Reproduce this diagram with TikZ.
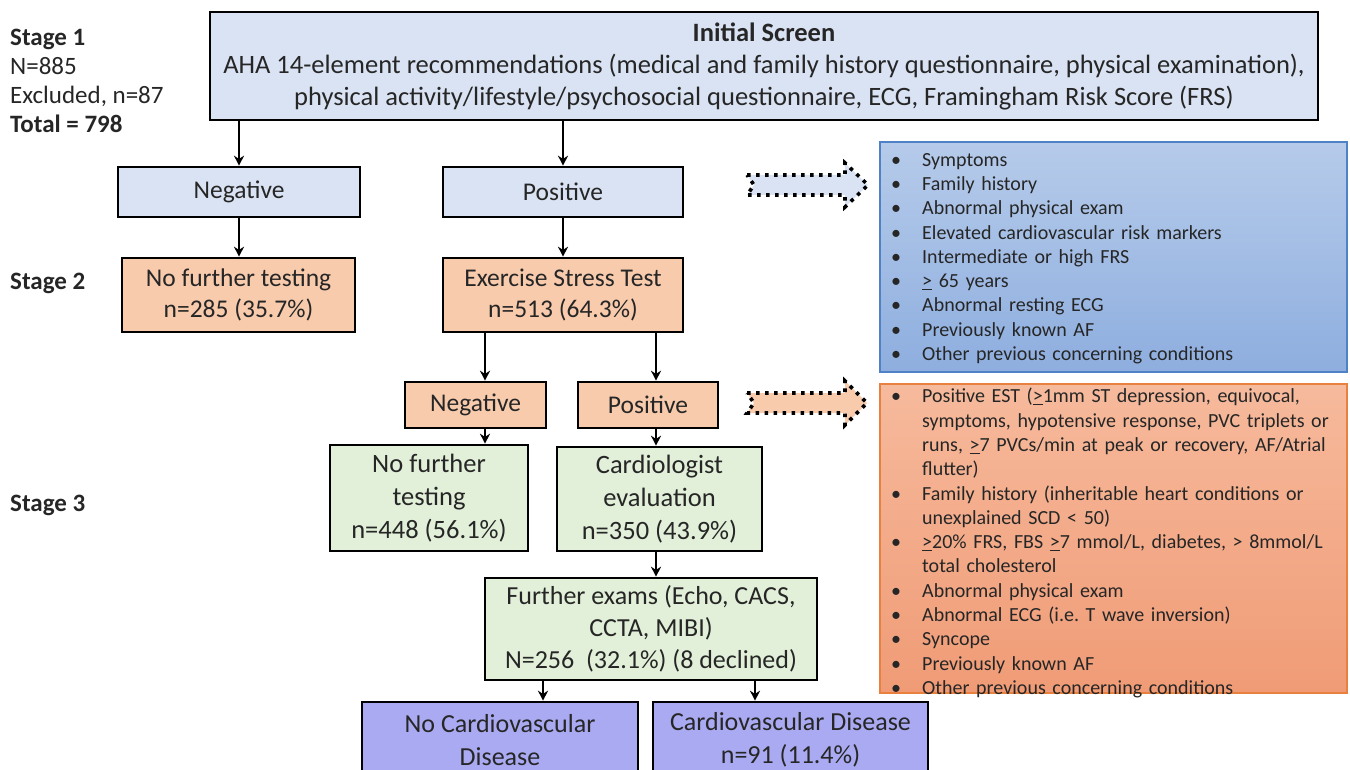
\documentclass[tikz,border=0pt]{standalone}
\usepackage{fontspec}
\setmainfont{Carlito}
\usetikzlibrary{calc,arrows.meta}
\definecolor{lblue}{HTML}{DAE3F3}
\definecolor{lorange}{HTML}{F8CBAD}
\definecolor{lgreen}{HTML}{E2F0D9}
\definecolor{lpurple}{HTML}{AAAAF2}
\definecolor{bluetop}{HTML}{B6CBEA}
\definecolor{bluebot}{HTML}{8EAEDF}
\definecolor{blueedge}{HTML}{4F81C6}
\definecolor{orgtop}{HTML}{F6BA9C}
\definecolor{orgbot}{HTML}{F09B76}
\definecolor{orgedge}{HTML}{E8813F}
\definecolor{txt}{HTML}{262626}
\newcommand\bitem[1]{\noindent\makebox[42pt][l]{\hspace{11pt}\textbullet}#1\par}
\newcommand\citem[1]{\noindent\hspace*{42pt}#1\par}
\begin{document}
\begin{tikzpicture}[x=1pt,y=-1pt,
  box/.style={draw=black, line width=2.6pt, inner sep=0pt, align=center, text=txt,
              font=\fontsize{25.5}{31}\selectfont},
  gbox/.style={box, fill=lgreen, font=\fontsize{26.5}{33}\selectfont},
  arr/.style={line width=1.8pt, -{Stealth[length=10pt,width=10pt]}},
  lbl/.style={inner sep=0pt, align=left, text=txt, font=\fontsize{25}{29}\selectfont},
  sidebox/.style={line width=1.4pt, inner sep=0pt, minimum width=467pt},
  sidetext/.style={inner sep=0pt, anchor=north west, text width=465pt, align=left, text=txt,
                   font=\fontsize{20}{24.3}\selectfont},
  dotarrow/.style={line width=3.6pt, dash pattern=on 3.6pt off 5.4pt}
]
\useasboundingbox (0,0) rectangle (1350,770);
\frenchspacing

% left labels
\node[lbl, anchor=north west] (s1) at (10,29) {\textbf{Stage 1}\\N=885\\Excluded, n=87\\\textbf{Total = 798}};
\node[lbl, anchor=west] (s2) at (10,283) {\textbf{Stage 2}};
\node[lbl, anchor=west] (s3) at (10,505) {\textbf{Stage 3}};

% main boxes
\node[box, fill=lblue, minimum width=1108pt, minimum height=108pt, font=\fontsize{26.5}{31.5}\selectfont] (init) at (764,66)
  {\textbf{Initial Screen}\\[1pt]AHA 14-element recommendations (medical and family history questionnaire, physical examination),\\physical activity/lifestyle/psychosocial questionnaire, ECG, Framingham Risk Score (FRS)};
\node[box, fill=lblue, minimum width=242pt, minimum height=50pt] (neg1) at (239,192) {Negative};
\node[box, fill=lblue, minimum width=240pt, minimum height=50pt] (pos1) at (563,192) {Positive};
\node[box, fill=lorange, minimum width=233pt, minimum height=74pt] (nft1) at (238.5,295) {No further testing\\n=285 (35.7\%)};
\node[box, fill=lorange, minimum width=240pt, minimum height=74pt] (est) at (563,295) {Exercise Stress Test\\n=513 (64.3\%)};
\node[box, fill=lorange, minimum width=141pt, minimum height=46pt] (neg2) at (475.5,405) {Negative};
\node[box, fill=lorange, minimum width=140pt, minimum height=46pt] (pos2) at (648,405) {Positive};
\node[gbox, minimum width=198pt, minimum height=106pt] (nft2) at (429,498) {No further\\testing\\n=448 (56.1\%)};
\node[gbox, minimum width=205pt, minimum height=104pt] (card) at (659.5,499) {Cardiologist\\evaluation\\n=350 (43.9\%)};
\node[gbox, minimum width=332pt, minimum height=102pt, font=\fontsize{26}{32}\selectfont] (fe) at (651,629) {Further exams (Echo, CACS,\\CCTA, MIBI)\\N=256\ \ (32.1\%) (8 declined)};
\node[box, fill=lpurple, minimum width=276pt, minimum height=76pt, font=\fontsize{26}{33}\selectfont] (nocvd) at (500,740) {No Cardiovascular\\Disease};
\node[box, fill=lpurple, minimum width=275pt, minimum height=76pt, font=\fontsize{26}{33}\selectfont] (cvd) at (790.5,740) {Cardiovascular Disease\\n=91 (11.4\%)};

% connector x positions
\coordinate (xa) at (485,0);
\coordinate (xb) at (656,0);
\coordinate (xc) at (543,0);
\coordinate (xd) at (755,0);

\draw[arr] (init.south -| neg1) -- (neg1.north);
\draw[arr] (init.south -| pos1) -- (pos1.north);
\draw[arr] (neg1.south) -- (nft1.north -| neg1);
\draw[arr] (pos1.south) -- (est.north);
\draw[arr] (est.south -| xa) -- (neg2.north -| xa);
\draw[arr] (est.south -| xb) -- (pos2.north -| xb);
\draw[arr] (neg2.south -| xa) -- (nft2.north -| xa);
\draw[arr] (pos2.south -| xb) -- (card.north -| xb);
\draw[arr] (card.south -| xb) -- (fe.north -| xb);
\draw[arr] (fe.south -| xc) -- (nocvd.north -| xc);
\draw[arr] (fe.south -| xd) -- (cvd.north -| xd);

% side boxes
\node[sidebox, draw=blueedge, top color=bluetop, bottom color=bluebot, minimum height=230pt] (crit1) at (1113.5,257) {};
\node[sidebox, draw=orgedge, top color=orgtop, bottom color=orgbot, minimum height=309pt] (crit2) at (1113.5,538.5) {};

\node[sidetext] (t1) at (880,153) {%
\bitem{Symptoms}
\bitem{Family history}
\bitem{Abnormal physical exam}
\bitem{Elevated cardiovascular risk markers}
\bitem{Intermediate or high FRS}
\bitem{\underline{>} 65 years}
\bitem{Abnormal resting ECG}
\bitem{Previously known AF}
\bitem{Other previous concerning conditions}};

\node[sidetext] (t2) at (880,388) {%
\bitem{Positive EST (\underline{>}1mm ST depression, equivocal,}
\citem{symptoms, hypotensive response, PVC triplets or}
\citem{runs, \underline{>}7 PVCs/min at peak or recovery, AF/Atrial}
\citem{flutter)}
\bitem{Family history (inheritable heart conditions or}
\citem{unexplained SCD < 50)}
\bitem{\underline{>}20\% FRS, FBS \underline{>}7 mmol/L, diabetes, > 8mmol/L}
\citem{total cholesterol}
\bitem{Abnormal physical exam}
\bitem{Abnormal ECG (i.e.\ T wave inversion)}
\bitem{Syncope}
\bitem{Previously known AF}
\bitem{Other previous concerning conditions}};

% dotted block arrows
\draw[dotarrow, fill=lblue] (747,175) -- (845,175) -- (845,163) -- (868,185) -- (845,207) -- (845,195) -- (747,195) -- (754,185) -- cycle;
\draw[dotarrow, fill=lorange] (747,393) -- (845,393) -- (845,381) -- (867,403) -- (845,425) -- (845,413) -- (747,413) -- (754,403) -- cycle;
\end{tikzpicture}
\end{document}
